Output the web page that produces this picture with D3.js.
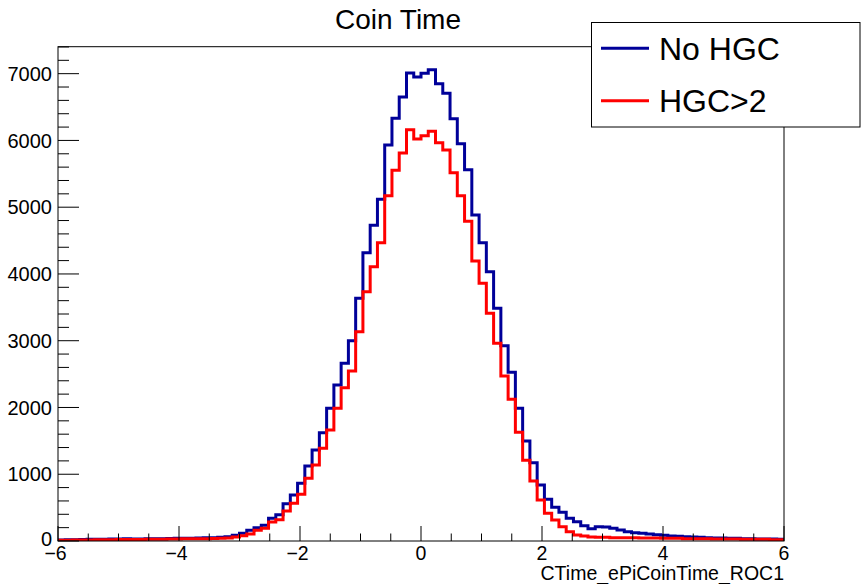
<!DOCTYPE html>
<html>
<head>
<meta charset="utf-8">
<script src="https://cdn.jsdelivr.net/npm/d3@7"></script>
<style>
html,body{margin:0;padding:0;background:#fff;}
svg{display:block;font-family:"Liberation Sans",Arial,Helvetica,sans-serif;}
</style>
</head>
<body>
<svg id="chart" width="861" height="584"></svg>
<script>
// ---- data ----
const chartTitle = "Coin Time";
const xAxisTitle = "CTime_ePiCoinTime_ROC1";
const xRange = [-6, 6];
const nBins = 100;
const yMax = 7404;
const xTickValues = [-6, -4, -2, 0, 2, 4, 6];
const yTickValues = [0, 1000, 2000, 3000, 4000, 5000, 6000, 7000];
const seriesNames = ["No HGC", "HGC>2"];
const seriesColors = ["#000099", "#ff0000"];

const noHGC = [
  15, 18, 20, 22, 25, 25, 28, 30, 30, 32,
  30, 30, 32, 35, 35, 38, 40, 40, 42, 45,
  48, 50, 55, 65, 85, 115, 160, 198, 235, 340,
  395, 558, 690, 864, 1123, 1363, 1623, 1988, 2337, 2662,
  3000, 3635, 4319, 4728, 5118, 5930, 6331, 6650, 7010, 6950,
  7005, 7060, 6850, 6706, 6326, 5950, 5562, 4883, 4469, 4034,
  3485, 2925, 2527, 1988, 1498, 1173, 839, 624, 504, 429,
  340, 290, 229, 185, 215, 210, 190, 165, 140, 125,
  115, 105, 95, 85, 75, 70, 65, 60, 55, 50,
  45, 45, 40, 40, 35, 35, 30, 30, 30, 25
];
const hgcGt2 = [
  10, 12, 14, 15, 16, 18, 20, 20, 22, 22,
  22, 22, 25, 25, 28, 30, 30, 32, 32, 35,
  35, 38, 42, 45, 60, 78, 105, 160, 190, 283,
  320, 450, 564, 700, 939, 1138, 1388, 1663, 1988, 2296,
  2546, 3135, 3734, 4109, 4469, 5173, 5552, 5812, 6160, 6020,
  6071, 6136, 5965, 5857, 5515, 5173, 4790, 4194, 3860, 3410,
  2961, 2470, 2125, 1628, 1208, 899, 614, 414, 315, 215,
  140, 90, 75, 60, 55, 55, 50, 50, 50, 50,
  45, 45, 45, 40, 40, 40, 35, 35, 35, 35,
  30, 30, 30, 30, 25, 25, 25, 25, 20, 20
];
const seriesValues = [noHGC, hgcGt2];

// ---- layout ----
const svg = d3.select("#chart");
const L = 58, R = 784, T = 46.7, B = 541;
const x = d3.scaleLinear().domain(xRange).range([L, R]);
const y = d3.scaleLinear().domain([0, yMax]).range([B, T]);
const binW = (xRange[1] - xRange[0]) / nBins;

svg.append("defs").append("clipPath").attr("id", "clip")
  .append("rect").attr("x", L).attr("y", T).attr("width", R - L).attr("height", B - T);

// histograms
const line = d3.line().x(d => x(d[0])).y(d => y(d[1])).curve(d3.curveStepAfter);
seriesValues.forEach((vals, si) => {
  const pts = vals.map((v, i) => [xRange[0] + i * binW, v]);
  pts.push([xRange[1], vals[vals.length - 1]]);
  svg.append("path")
    .attr("clip-path", "url(#clip)")
    .attr("d", line(pts))
    .attr("fill", "none")
    .attr("stroke", seriesColors[si])
    .attr("stroke-width", 3)
    .attr("stroke-linejoin", "miter");
});

// frame
svg.append("rect").attr("x", L).attr("y", T).attr("width", R - L).attr("height", B - T)
  .attr("fill", "none").attr("stroke", "#000").attr("stroke-width", 1);

// ticks (inside the frame)
const tickG = svg.append("g").attr("stroke", "#000").attr("stroke-width", 1);
const yMinor = d3.range(0, yMax, 200);
yMinor.forEach(v => {
  const major = yTickValues.includes(v);
  tickG.append("line").attr("x1", L).attr("x2", L + (major ? 21 : 11))
    .attr("y1", y(v)).attr("y2", y(v));
});
const xMinor = d3.range(xRange[0], xRange[1] + 0.001, 0.5);
xMinor.forEach(v => {
  const major = xTickValues.some(t => Math.abs(t - v) < 1e-9);
  tickG.append("line").attr("x1", x(v)).attr("x2", x(v))
    .attr("y1", B).attr("y2", B - (major ? 15 : 7.5));
});

// tick labels
svg.append("g").selectAll("text").data(yTickValues).join("text")
  .attr("x", 52).attr("y", d => y(d) - (d === 0 ? 2 : 0)).attr("dy", "0.36em")
  .attr("text-anchor", "end").attr("font-size", 20).attr("fill", "#000")
  .text(d => d3.format("d")(d));
svg.append("g").selectAll("text").data(xTickValues).join("text")
  .attr("x", d => x(d) - (d < 0 ? 2.5 : 0)).attr("y", 559.5)
  .attr("text-anchor", "middle").attr("font-size", 19.5).attr("fill", "#000")
  .text(d => d < 0 ? "\u2212" + Math.abs(d) : String(d));

// axis title
svg.append("text").attr("x", R).attr("y", 579.5).attr("text-anchor", "end")
  .attr("font-size", 19.5).attr("fill", "#000").text(xAxisTitle);

// title
svg.append("text").attr("x", 398).attr("y", 29).attr("text-anchor", "middle")
  .attr("font-size", 28).attr("fill", "#000").text(chartTitle);

// legend
const lg = svg.append("g");
lg.append("rect").attr("x", 591.5).attr("y", 22.5).attr("width", 268.5).attr("height", 104.5)
  .attr("fill", "#fff").attr("stroke", "#000").attr("stroke-width", 1);
const legendY = [48.3, 100.7];
seriesNames.forEach((name, i) => {
  lg.append("line").attr("x1", 601).attr("x2", 649).attr("y1", legendY[i]).attr("y2", legendY[i])
    .attr("stroke", seriesColors[i]).attr("stroke-width", 3);
  lg.append("text").attr("x", 659).attr("y", legendY[i] + 11.7)
    .attr("font-size", 32).attr("fill", "#000").text(name);
});
</script>
</body>
</html>
